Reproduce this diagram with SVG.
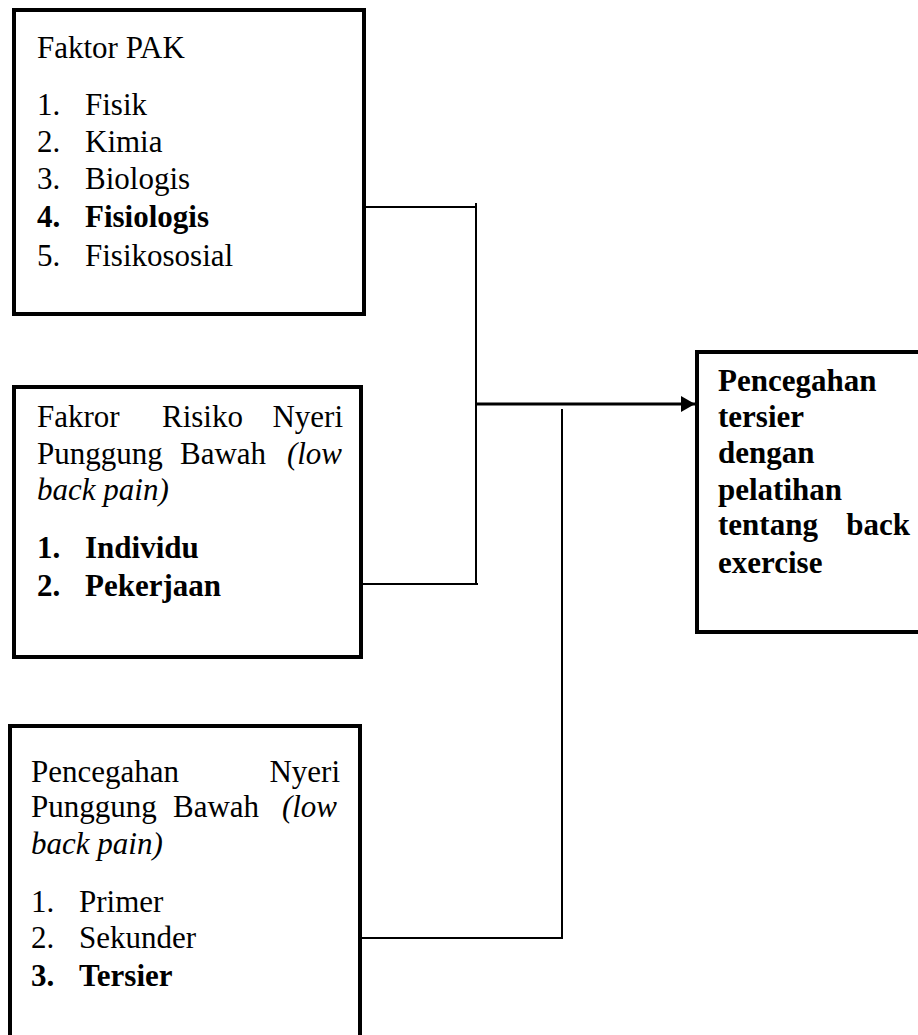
<svg xmlns="http://www.w3.org/2000/svg" width="918" height="1035" viewBox="0 0 918 1035">
<style>
.box{fill:#fff;stroke:#000;stroke-width:4}
.t{font-family:"Liberation Serif","Times New Roman",serif;font-size:31px;fill:#000}
.b{font-weight:bold}
.i{font-style:italic}
.e{text-anchor:end}
.c{stroke:#000;stroke-width:2;fill:none}
.a{stroke:#000;stroke-width:3;fill:none}
</style>
<defs>
<marker id="arr" markerUnits="userSpaceOnUse" markerWidth="14" markerHeight="16" refX="14" refY="8" orient="auto">
<path d="M0,0 L14,8 L0,16 Z" fill="#000"/>
</marker>
</defs>
<rect width="918" height="1035" fill="#fff"/>
<g id="connectors">
<line class="c" x1="366" y1="207" x2="477" y2="207"/>
<line class="c" x1="476" y1="203" x2="476" y2="585"/>
<line class="c" x1="363" y1="584" x2="478" y2="584"/>
<line class="a" x1="476" y1="404" x2="695" y2="404" marker-end="url(#arr)"/>
<line class="c" x1="562" y1="409" x2="562" y2="939"/>
<line class="c" x1="362" y1="938" x2="563" y2="938"/>
</g>
<g id="faktor-pak">
<rect class="box" x="14" y="10" width="350" height="304"/>
<text class="t" x="37" y="58">Faktor PAK</text>
<text class="t" x="37" y="115">1.</text><text class="t" x="85" y="115">Fisik</text>
<text class="t" x="37" y="152">2.</text><text class="t" x="85" y="152">Kimia</text>
<text class="t" x="37" y="189">3.</text><text class="t" x="85" y="189">Biologis</text>
<text class="t b" x="37" y="227">4.</text><text class="t b" x="85" y="227">Fisiologis</text>
<text class="t" x="37" y="266">5.</text><text class="t" x="85" y="266">Fisikososial</text>
</g>
<g id="faktor-risiko">
<rect class="box" x="14" y="387" width="347" height="270"/>
<text class="t" x="37" y="427">Fakror</text><text class="t" x="162" y="427">Risiko</text><text class="t e" x="343" y="427">Nyeri</text>
<text class="t" x="37" y="464">Punggung</text><text class="t" x="180" y="464">Bawah</text><text class="t i e" x="342" y="464">(low</text>
<text class="t i" x="37" y="500">back pain)</text>
<text class="t b" x="37" y="558">1.</text><text class="t b" x="85" y="558">Individu</text>
<text class="t b" x="37" y="596">2.</text><text class="t b" x="85" y="596">Pekerjaan</text>
</g>
<g id="pencegahan-nyeri">
<rect class="box" x="10" y="726" width="350" height="330"/>
<text class="t" x="31" y="782">Pencegahan</text><text class="t e" x="340" y="782">Nyeri</text>
<text class="t" x="31" y="817">Punggung</text><text class="t" x="173" y="817">Bawah</text><text class="t i e" x="337" y="817">(low</text>
<text class="t i" x="31" y="854">back pain)</text>
<text class="t" x="31" y="912">1.</text><text class="t" x="79" y="912">Primer</text>
<text class="t" x="31" y="948">2.</text><text class="t" x="79" y="948">Sekunder</text>
<text class="t b" x="31" y="986">3.</text><text class="t b" x="79" y="986">Tersier</text>
</g>
<g id="pencegahan-tersier">
<rect class="box" x="697" y="352" width="240" height="280"/>
<text class="t b" x="718" y="391">Pencegahan</text>
<text class="t b" x="718" y="427">tersier</text>
<text class="t b" x="718" y="463">dengan</text>
<text class="t b" x="718" y="500">pelatihan</text>
<text class="t b" x="718" y="535">tentang</text><text class="t b e" x="910" y="535">back</text>
<text class="t b" x="718" y="573">exercise</text>
</g>
</svg>
